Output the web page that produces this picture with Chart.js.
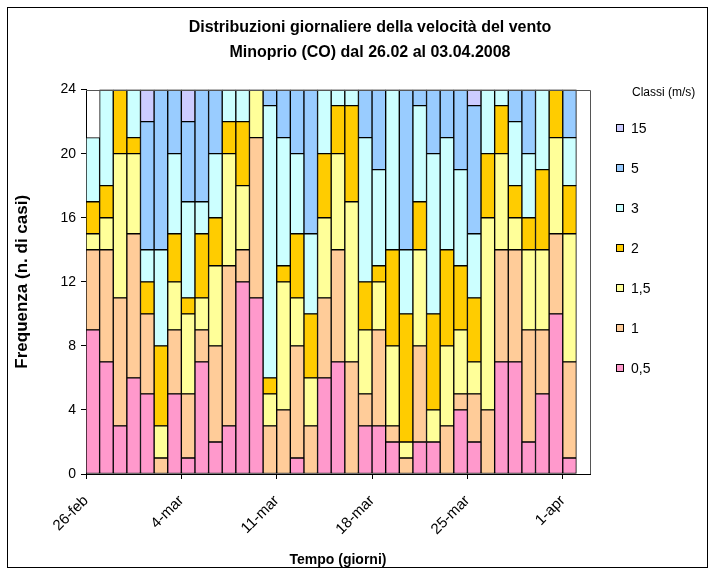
<!DOCTYPE html>
<html>
<head>
<meta charset="utf-8">
<script src="https://cdn.jsdelivr.net/npm/chart.js@4.4.1/dist/chart.umd.min.js"></script>
<style>
  body { margin: 0; background: #fff; }
  canvas { display: block; }
</style>
</head>
<body>
<canvas id="vento" width="715" height="575"></canvas>
<script>
const days = ['26-feb', '27-feb', '28-feb', '29-feb', '1-mar', '2-mar', '3-mar', '4-mar', '5-mar', '6-mar',
  '7-mar', '8-mar', '9-mar', '10-mar', '11-mar', '12-mar', '13-mar', '14-mar', '15-mar', '16-mar',
  '17-mar', '18-mar', '19-mar', '20-mar', '21-mar', '22-mar', '23-mar', '24-mar', '25-mar', '26-mar',
  '27-mar', '28-mar', '29-mar', '30-mar', '31-mar', '1-apr', '2-apr'];

// ore al giorno per classe di velocita
const c05 = [9, 7, 3, 6, 5, 0, 5, 1, 7, 2, 3, 12, 11, 0, 0, 1, 0, 6, 7, 0, 3, 3, 2, 0, 2, 2, 0, 4, 2, 0, 7, 7, 2, 5, 10, 1];
const c1 = [5, 7, 8, 9, 5, 1, 4, 4, 2, 6, 10, 2, 10, 3, 4, 7, 3, 5, 7, 7, 2, 6, 1, 1, 6, 0, 3, 1, 3, 4, 7, 7, 7, 4, 5, 6];
const c15 = [1, 2, 9, 5, 0, 2, 3, 5, 2, 5, 7, 4, 3, 2, 8, 3, 3, 5, 6, 10, 4, 3, 5, 1, 6, 2, 5, 4, 2, 12, 6, 2, 5, 5, 6, 8];
const c2 = [2, 2, 4, 1, 2, 5, 3, 1, 4, 3, 2, 4, 0, 1, 1, 4, 4, 4, 3, 6, 3, 1, 6, 8, 3, 6, 6, 4, 4, 4, 3, 2, 2, 5, 3, 3];
const c3 = [4, 6, 0, 3, 2, 6, 5, 6, 2, 4, 2, 2, 0, 17, 8, 5, 5, 4, 1, 1, 9, 6, 10, 4, 6, 10, 7, 6, 4, 4, 1, 4, 4, 5, 0, 3];
const c5 = [0, 0, 0, 0, 8, 10, 4, 5, 7, 4, 0, 0, 0, 1, 3, 4, 9, 0, 0, 0, 3, 5, 0, 10, 1, 4, 3, 5, 8, 0, 0, 2, 4, 0, 0, 3];
const c15ms = [0, 0, 0, 0, 2, 0, 0, 2, 0, 0, 0, 0, 0, 0, 0, 0, 0, 0, 0, 0, 0, 0, 0, 0, 0, 0, 0, 0, 1, 0, 0, 0, 0, 0, 0, 0];

const yTicks = [0, 4, 8, 12, 16, 20, 24];

Chart.defaults.font.family = "'Liberation Sans', Arial, sans-serif";
Chart.defaults.color = '#000';

const PLOT_LEFT = 86, PLOT_RIGHT = 590, PLOT_BOTTOM = 474, PAD_LEFT = 25, PAD_BOTTOM = 4;

const makeSet = (label, data, color) => ({
  label: label,
  data: data,
  backgroundColor: color,
  borderColor: '#000',
  borderWidth: 1,
  borderSkipped: false,
  categoryPercentage: 1,
  barPercentage: 1
});

// legenda e cornici
const frame = {
  id: 'frame',
  afterDraw(chart) {
    const { ctx, chartArea: a } = chart;
    ctx.save();
    ctx.lineWidth = 1;
    ctx.strokeStyle = '#555';
    ctx.beginPath();
    ctx.moveTo(a.left, Math.round(a.top) + 0.5);
    ctx.lineTo(Math.round(a.right) + 0.5, Math.round(a.top) + 0.5);
    ctx.lineTo(Math.round(a.right) + 0.5, a.bottom);
    ctx.stroke();
    ctx.strokeStyle = '#000';
    ctx.strokeRect(7.5, 7.5, 700, 560);

    ctx.textAlign = 'left';
    ctx.textBaseline = 'middle';
    ctx.fillStyle = '#000';
    ctx.font = "12px 'Liberation Sans', Arial, sans-serif";
    ctx.fillText('Classi (m/s)', 632, 93);
    ctx.font = "14px 'Liberation Sans', Arial, sans-serif";
    const sets = chart.data.datasets.slice().reverse();
    sets.forEach((ds, i) => {
      const y = 128 + i * 40;
      ctx.fillStyle = ds.backgroundColor;
      ctx.fillRect(616.5, y - 3.5, 7, 7);
      ctx.strokeStyle = '#000';
      ctx.strokeRect(616.5, y - 3.5, 7, 7);
      ctx.fillStyle = '#000';
      ctx.fillText(ds.label, 631, y + 1);
    });
    ctx.restore();
  }
};

new Chart(document.getElementById('vento'), {
  type: 'bar',
  data: {
    labels: days,
    datasets: [
      makeSet('0,5', c05, '#FF99CC'),
      makeSet('1', c1, '#FFCC99'),
      makeSet('1,5', c15, '#FFFF99'),
      makeSet('2', c2, '#FFCC00'),
      makeSet('3', c3, '#CCFFFF'),
      makeSet('5', c5, '#99CCFF'),
      makeSet('15', c15ms, '#CCCCFF')
    ]
  },
  options: {
    responsive: false,
    animation: false,
    layout: { padding: { left: PAD_LEFT, right: 0, top: 0, bottom: PAD_BOTTOM } },
    plugins: {
      legend: { display: false },
      tooltip: { enabled: false },
      title: {
        display: true,
        text: ['Distribuzioni giornaliere della velocità del vento', 'Minoprio (CO) dal 26.02 al 03.04.2008'],
        font: { size: 16, weight: 'bold', lineHeight: 1.55 },
        color: '#000',
        padding: { top: 15, bottom: 25 }
      }
    },
    scales: {
      x: {
        stacked: true,
        offset: true,
        grid: {
          offset: true,
          drawOnChartArea: false,
          tickLength: 5,
          tickColor: c => (c.index % 7 === 0 ? '#000' : 'rgba(0,0,0,0)')
        },
        border: { color: '#000' },
        ticks: {
          autoSkip: false,
          maxRotation: 45,
          minRotation: 45,
          labelOffset: -6.8,
          padding: 13,
          font: { size: 15 },
          callback: (v, i) => (i % 7 === 0 ? days[i] : '')
        },
        title: { display: true, text: 'Tempo (giorni)', font: { size: 14, weight: 'bold' }, padding: { top: 0, bottom: 2 } },
        afterFit: s => { s.height = 575 - PAD_BOTTOM - PLOT_BOTTOM; }
      },
      y: {
        stacked: true,
        min: 0,
        max: 24,
        afterBuildTicks: s => { s.ticks = yTicks.map(v => ({ value: v })); },
        grid: { drawOnChartArea: false, tickLength: 5, tickColor: '#000' },
        border: { color: '#000' },
        ticks: { padding: 5, font: { size: 14 } },
        title: { display: true, text: 'Frequenza (n. di casi)', font: { size: 17, weight: 'bold' }, padding: { top: -13, bottom: 0 } },
        afterFit: s => { s.width = PLOT_LEFT - PAD_LEFT; }
      },
      // spazio per la legenda
      legenda: {
        position: 'right',
        grid: { display: false },
        border: { display: false },
        ticks: { display: false },
        afterFit: s => { s.width = 715 - PLOT_RIGHT; }
      }
    }
  },
  plugins: [frame]
});
</script>
</body>
</html>
